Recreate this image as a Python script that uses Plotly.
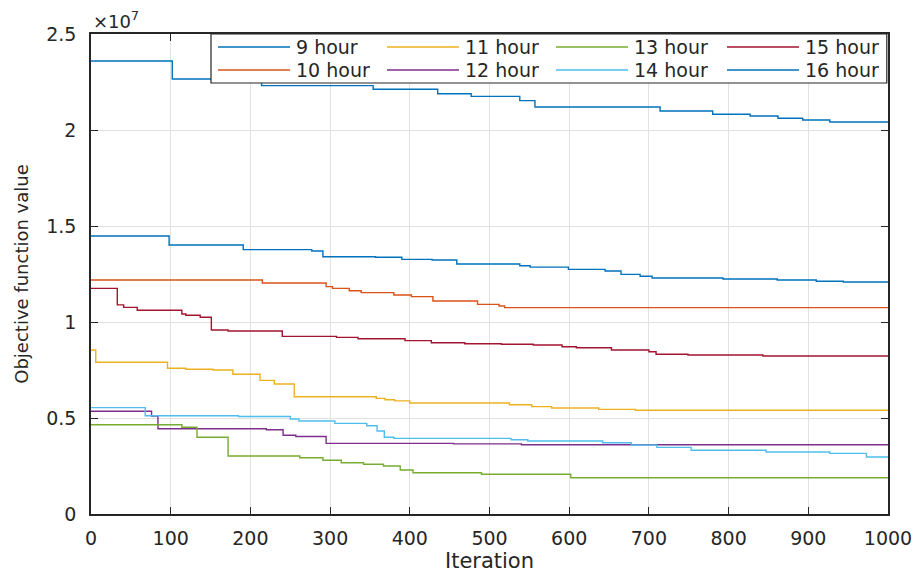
import plotly.graph_objects as go

# Objective function value (in units of 1e7) versus iteration, one step curve per horizon.
series_names = ["9 hour", "10 hour", "11 hour", "12 hour",
                "13 hour", "14 hour", "15 hour", "16 hour"]
series_colors = ["#0072BD", "#D95319", "#EDB120", "#7E2F8E",
                 "#77AC30", "#4DBEEE", "#A2142F", "#0072BD"]

iter_9h = [0, 98, 191, 277, 291, 357, 390, 428, 459, 538, 551, 599, 645, 665, 689, 704, 793, 861, 910, 944, 1000]
obj_9h = [1.448, 1.401, 1.377, 1.370, 1.340, 1.337, 1.326, 1.323, 1.302, 1.293, 1.286, 1.274, 1.266, 1.248,
          1.238, 1.229, 1.224, 1.219, 1.212, 1.208, 1.208]

iter_10h = [0, 215, 295, 303, 324, 339, 380, 402, 429, 485, 512, 519, 1000]
obj_10h = [1.219, 1.203, 1.184, 1.175, 1.163, 1.153, 1.141, 1.132, 1.109, 1.092, 1.083, 1.075, 1.075]

iter_11h = [0, 6, 96, 119, 153, 178, 212, 230, 255, 358, 369, 381, 400, 525, 553, 578, 637, 683, 1000]
obj_11h = [0.854, 0.790, 0.759, 0.754, 0.750, 0.728, 0.696, 0.677, 0.611, 0.602, 0.595, 0.589, 0.578,
           0.569, 0.559, 0.552, 0.545, 0.540, 0.540]

iter_12h = [0, 76, 84, 220, 241, 257, 295, 455, 540, 1000]
obj_12h = [0.535, 0.510, 0.444, 0.439, 0.410, 0.404, 0.368, 0.365, 0.361, 0.361]

iter_13h = [0, 114, 133, 172, 262, 291, 314, 342, 367, 388, 404, 490, 602, 1000]
obj_13h = [0.465, 0.452, 0.400, 0.302, 0.293, 0.280, 0.267, 0.259, 0.250, 0.229, 0.215, 0.207, 0.189, 0.189]

iter_14h = [0, 68, 185, 250, 261, 306, 346, 359, 368, 380, 527, 548, 642, 678, 710, 753, 847, 927, 973, 1000]
obj_14h = [0.554, 0.512, 0.508, 0.495, 0.484, 0.472, 0.460, 0.432, 0.400, 0.394, 0.387, 0.380, 0.371,
           0.359, 0.347, 0.332, 0.323, 0.316, 0.297, 0.297]

iter_15h = [0, 33, 41, 58, 114, 119, 137, 151, 172, 240, 308, 335, 394, 427, 469, 515, 555, 591, 609,
            653, 700, 709, 749, 843, 1000]
obj_15h = [1.175, 1.089, 1.076, 1.061, 1.042, 1.035, 1.025, 0.958, 0.953, 0.925, 0.920, 0.913, 0.903,
           0.892, 0.887, 0.884, 0.880, 0.871, 0.866, 0.854, 0.845, 0.832, 0.828, 0.823, 0.823]

iter_16h = [0, 102, 214, 354, 435, 477, 538, 557, 714, 780, 827, 862, 893, 927, 1000]
obj_16h = [2.359, 2.266, 2.231, 2.212, 2.189, 2.175, 2.153, 2.120, 2.099, 2.082, 2.073, 2.061, 2.052,
           2.042, 2.042]

x_ticks = [0, 100, 200, 300, 400, 500, 600, 700, 800, 900, 1000]
y_ticks = [0, 0.5, 1, 1.5, 2, 2.5]
y_tick_text = ["0", "0.5", "1", "1.5", "2", "2.5"]

iterations = [iter_9h, iter_10h, iter_11h, iter_12h, iter_13h, iter_14h, iter_15h, iter_16h]
objectives = [obj_9h, obj_10h, obj_11h, obj_12h, obj_13h, obj_14h, obj_15h, obj_16h]

FONT = "DejaVu Sans"
INK = "#262626"

fig = go.Figure()
for name, color, xs, ys in zip(series_names, series_colors, iterations, objectives):
    fig.add_trace(go.Scatter(
        x=xs, y=ys, name=name, mode="lines",
        line=dict(color=color, width=1.4, shape="hv"),
        showlegend=False,
    ))

axis_common = dict(
    showline=True, linecolor=INK, linewidth=1.5, mirror="ticks",
    ticks="inside", ticklen=7, tickwidth=1.3, tickcolor=INK,
    showgrid=True, gridcolor="#e2e2e2", gridwidth=1, zeroline=False,
    tickfont=dict(family=FONT, size=19, color=INK),
    automargin=False,
)

fig.update_layout(
    width=920, height=573,
    margin=dict(l=91, r=32, t=34, b=59),
    paper_bgcolor="white", plot_bgcolor="white",
    font=dict(family=FONT, color=INK),
    xaxis=dict(range=[0, 1000], tickvals=x_ticks, ticklabelstandoff=6,
               title=dict(text="Iteration", font=dict(family=FONT, size=21, color=INK), standoff=6),
               **axis_common),
    yaxis=dict(range=[0, 2.5], tickvals=y_ticks, ticktext=y_tick_text, ticklabelstandoff=9,
               title=dict(text="Objective function value", font=dict(family=FONT, size=18, color=INK),
                          standoff=13),
               **axis_common),
)

# Scale factor shown above the y axis
fig.add_annotation(xref="paper", yref="paper", x=0.0, y=1.0, xanchor="left", yanchor="bottom",
                   text="×10<sup>7</sup>", showarrow=False, yshift=0,
                   font=dict(family=FONT, size=18, color=INK))

# Legend box: four columns, two rows, column-major ordering
plot_w, plot_h = 797.0, 480.0
box_x0 = 120 / plot_w
box_y0 = 1 - 49 / plot_h
fig.add_shape(type="rect", xref="paper", yref="paper", x0=box_x0, x1=0.9985, y0=box_y0, y1=1.0,
              fillcolor="white", line=dict(color=INK, width=1.2), layer="above")

col_start = [127, 296, 465, 636]
row_y = [13, 36]
sample_len = 72
for i, (name, color) in enumerate(zip(series_names, series_colors)):
    col, row = i // 2, i % 2
    x0 = col_start[col] / plot_w
    x1 = (col_start[col] + sample_len) / plot_w
    yy = 1 - row_y[row] / plot_h
    fig.add_shape(type="line", xref="paper", yref="paper", x0=x0, x1=x1, y0=yy, y1=yy,
                  line=dict(color=color, width=1.3), layer="above")
    fig.add_annotation(xref="paper", yref="paper", x=(col_start[col] + sample_len + 4) / plot_w, y=yy,
                       xanchor="left", yanchor="middle", text=name, showarrow=False,
                       font=dict(family=FONT, size=19, color=INK))

fig.write_html("out.html")
